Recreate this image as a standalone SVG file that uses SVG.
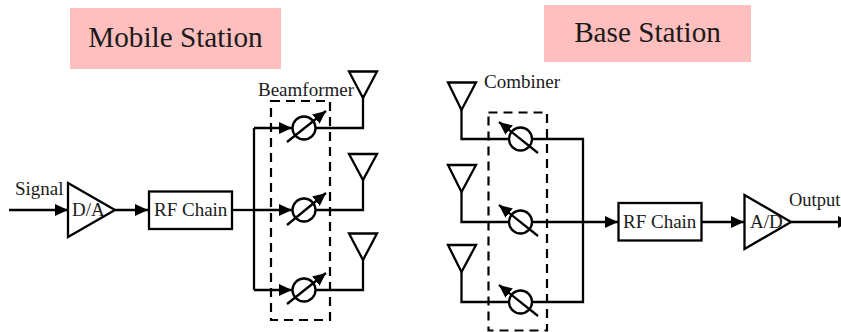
<svg xmlns="http://www.w3.org/2000/svg" width="841" height="332" viewBox="0 0 841 332">
<style>
.l{fill:none;stroke:#000;stroke-width:2.3}
.a{fill:none;stroke:#000;stroke-width:2.3}
.d{fill:none;stroke:#000;stroke-width:2.2;stroke-dasharray:9 6}
.n{fill:none;stroke:#000;stroke-width:2.3}
.o{fill:none;stroke:#000;stroke-width:2.3}
text{font-family:"Liberation Serif","Times New Roman",serif;fill:#1a1a1a}
.t{font-size:19px}
.h{font-size:29.2px}
.p{fill:#ffbfbf}
</style>
<defs>
<marker id="ah" markerUnits="userSpaceOnUse" markerWidth="14" markerHeight="12" refX="13" refY="6" orient="auto"><path d="M0 0L13 6L0 12z" fill="#000"/></marker>
</defs>
<g id="mobile-title"><rect class="p" x="70" y="8" width="211" height="61"/><text class="h" x="175.500" y="47" text-anchor="middle">Mobile Station</text></g>
<g id="base-title"><rect class="p" x="544" y="5" width="207" height="57"/><text class="h" x="647.500" y="42" text-anchor="middle">Base Station</text></g>
<g id="connectors">
<path class="a" d="M9 210H68" marker-end="url(#ah)"/>
<path class="a" d="M115 210H148" marker-end="url(#ah)"/>
<path class="l" d="M232 210H254"/>
<path class="a" d="M254 128V290"/>
<path class="a" d="M254 128H292" marker-end="url(#ah)"/>
<path class="a" d="M254 210H292" marker-end="url(#ah)"/>
<path class="a" d="M254 290H292" marker-end="url(#ah)"/>
<path class="l" d="M316 128H363V98"/>
<path class="l" d="M316 210H363V180"/>
<path class="l" d="M316 290H363V260"/>
<path class="l" d="M461.500 110V139H509"/>
<path class="l" d="M461.500 192V222H509"/>
<path class="l" d="M461.500 272V302H509"/>
<path class="l" d="M532 139H583V302H532"/>
<path class="a" d="M532 222H618" marker-end="url(#ah)"/>
<path class="a" d="M702 222H744" marker-end="url(#ah)"/>
<path class="a" d="M791 222H851" marker-end="url(#ah)"/>
</g>
<g id="beamformer"><rect class="d" x="271" y="101" width="59" height="219"/><text class="t" x="258" y="96">Beamformer</text></g>
<g id="combiner"><rect class="d" x="488.500" y="112.500" width="58.500" height="218"/><text class="t" x="484" y="88">Combiner</text></g>
<g id="signal"><text class="t" x="15" y="195">Signal</text></g>
<g id="output"><text x="789" y="206" font-size="18.500">Output</text></g>
<g id="da"><path class="n" d="M68 183L115 210L68 237z"/><text class="t" x="72" y="216">D/A</text></g>
<g id="rf1"><rect class="n" x="149" y="191.500" width="83" height="37.500"/><text class="t" x="154" y="216">RF Chain</text></g>
<g id="rf2"><rect class="n" x="618.500" y="203" width="83" height="37.500"/><text class="t" x="623" y="228">RF Chain</text></g>
<g id="ad"><path class="n" d="M744.500 195L791 222L744.500 249z"/><text class="t" x="750" y="228">A/D</text></g>
<g id="ps1"><circle class="o" cx="304" cy="128" r="11.500"/><path class="a" d="M287 142L326 111" marker-end="url(#ah)"/></g>
<g id="ps2"><circle class="o" cx="304" cy="210" r="11.500"/><path class="a" d="M287 225L326 193" marker-end="url(#ah)"/></g>
<g id="ps3"><circle class="o" cx="304" cy="290" r="11.500"/><path class="a" d="M287 304L326 273" marker-end="url(#ah)"/></g>
<g id="ps4"><circle class="o" cx="520.500" cy="139" r="11.500"/><path class="a" d="M538 153L499 122" marker-end="url(#ah)"/></g>
<g id="ps5"><circle class="o" cx="520.500" cy="222" r="11.500"/><path class="a" d="M538 236L499 205" marker-end="url(#ah)"/></g>
<g id="ps6"><circle class="o" cx="520.500" cy="302" r="11.500"/><path class="a" d="M538 316L499 285" marker-end="url(#ah)"/></g>
<g id="ant1"><path class="l" d="M349 71.500H377L363 98z"/></g>
<g id="ant2"><path class="l" d="M349 154H377L363 180z"/></g>
<g id="ant3"><path class="l" d="M349 233.500H377L363 260z"/></g>
<g id="ant4"><path class="l" d="M448 82.500H476L461.500 110z"/></g>
<g id="ant5"><path class="l" d="M448 165H476L461.500 192z"/></g>
<g id="ant6"><path class="l" d="M448 245H476L461.500 272z"/></g>
</svg>
